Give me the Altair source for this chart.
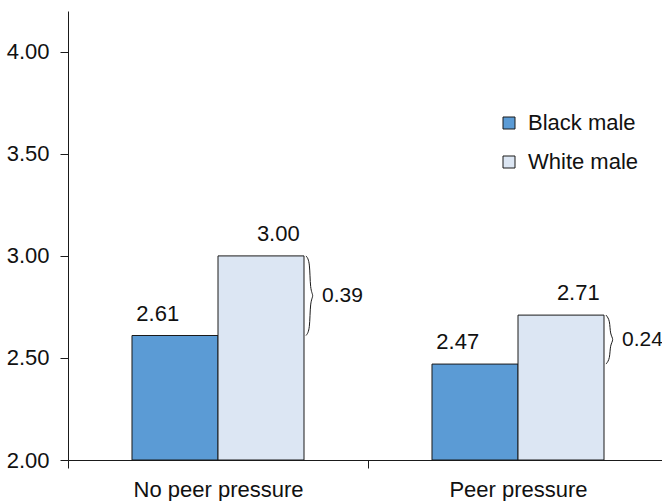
import altair as alt
import pandas as pd

groups = ["No peer pressure", "Peer pressure"]
series = ["Black male", "White male"]
black_male = [2.61, 2.47]
white_male = [3.00, 2.71]
y_ticks = [2.0, 2.5, 3.0, 3.5, 4.0]
colors = ["#5b9bd5", "#dce6f3"]

FONT = "Liberation Sans"
FS = 22
TEXT = "#111111"
LINE = "#1a1a1a"

rows = []
for g, b, w in zip(groups, black_male, white_male):
    rows.append({"group": g, "series": series[0], "value": b})
    rows.append({"group": g, "series": series[1], "value": w})
bars_df = pd.DataFrame(rows)

gap_df = pd.DataFrame({"group": groups, "top": white_male, "bottom": black_male})
gap_df["mid"] = (gap_df["top"] + gap_df["bottom"]) / 2
gap_df["diff"] = (gap_df["top"] - gap_df["bottom"]).map(lambda v: f"{v:.2f}")

hook = 0.025
brace_rows = []
for g, t, b in zip(groups, white_male, black_male):
    m = (t + b) / 2
    pts = [(0, t), (1, t - hook), (1, m + hook), (2, m), (1, m - hook), (1, b + hook), (0, b)]
    for k, (bx, by) in enumerate(pts):
        brace_rows.append({"group": g, "k": k, "bx": bx, "y": by})
brace_df = pd.DataFrame(brace_rows)


def xenc():
    return alt.X(
        "group:N",
        title=None,
        sort=groups,
        scale=alt.Scale(domain=groups, range=[0, 600], paddingInner=0, paddingOuter=0),
        axis=alt.Axis(
            labelAngle=0, labelFont=FONT, labelFontSize=FS, labelColor=TEXT,
            labelPadding=11, labelLimit=0, tickBand="extent", tickSize=8,
            tickColor=LINE, domainColor=LINE, grid=False,
        ),
    )


def yenc(field):
    return alt.Y(
        f"{field}:Q",
        title=None,
        scale=alt.Scale(domain=[2, 4.2], zero=False, nice=False, clamp=True),
        axis=alt.Axis(
            values=y_ticks, format=".2f", labelFont=FONT, labelFontSize=FS,
            labelColor=TEXT, labelPadding=11, tickSize=8, tickColor=LINE,
            domainColor=LINE, grid=False,
        ),
    )


xoff = alt.XOffset(
    "series:N", sort=series,
    scale=alt.Scale(domain=series, paddingInner=0, paddingOuter=0.744),
)

bars = alt.Chart(bars_df).mark_bar(stroke=LINE, strokeWidth=1).encode(
    x=xenc(),
    xOffset=xoff,
    y=yenc("value"),
    color=alt.Color(
        "series:N",
        scale=alt.Scale(domain=series, range=colors),
        legend=alt.Legend(
            title=None, orient="none", legendX=430, legendY=101,
            symbolType="square", symbolSize=144, symbolStrokeColor=LINE,
            symbolStrokeWidth=1, labelFont=FONT, labelFontSize=FS,
            labelColor=TEXT, labelOffset=8, rowPadding=17, padding=0,
        ),
    ),
)

value_text = alt.Chart(bars_df).mark_text(
    baseline="alphabetic", dy=-15, font=FONT, fontSize=FS, color=TEXT
).encode(
    x=xenc(),
    xOffset=xoff,
    y=yenc("value"),
    text=alt.Text("value:Q", format=".2f"),
)

braces = alt.Chart(brace_df).mark_line(
    interpolate="basis", stroke=LINE, strokeWidth=1
).encode(
    x=xenc(),
    xOffset=alt.XOffset("bx:Q", scale=alt.Scale(domain=[0, 2], range=[238, 246])),
    y=yenc("y"),
    order="k:O",
    detail="group:N",
)

diff_text = alt.Chart(gap_df).mark_text(
    align="left", baseline="middle", dx=104, font=FONT, fontSize=21, color=TEXT
).encode(
    x=xenc(),
    y=yenc("mid"),
    text="diff:N",
)

chart = (
    alt.layer(bars, value_text, braces, diff_text)
    .resolve_scale(xOffset="independent")
    .properties(
        width=594,
        height=449,
        autosize=alt.AutoSizeParams(type="none"),
        padding={"left": 68, "top": 11, "right": 0, "bottom": 41},
        background="white",
    )
    .configure_view(stroke=None)
)

chart.save("out.html", embed_options={"renderer": "svg", "actions": False})
